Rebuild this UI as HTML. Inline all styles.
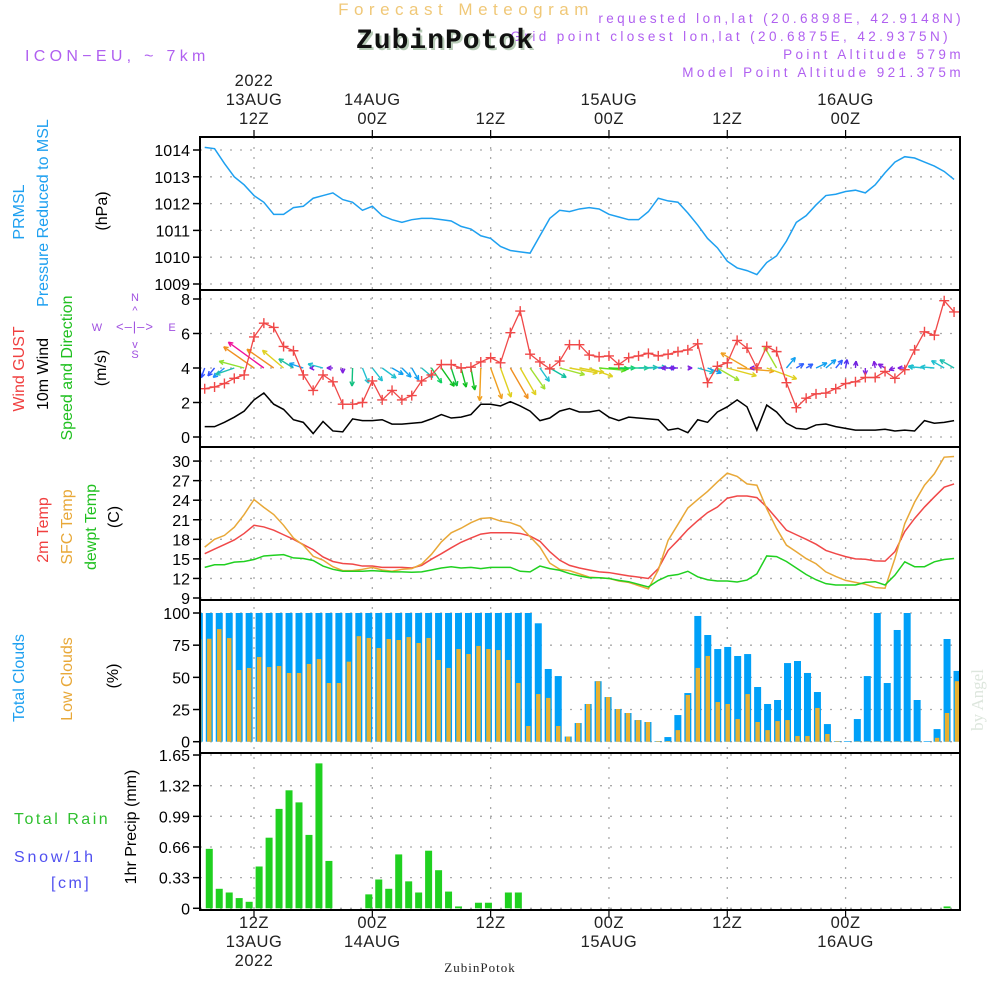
<!DOCTYPE html>
<html><head><meta charset="utf-8"><style>
body{margin:0;background:#fff;}
svg{display:block;font-family:"Liberation Sans",sans-serif;}
</style></head><body>
<svg id="chart" width="1000" height="1000" viewBox="0 0 1000 1000" xmlns="http://www.w3.org/2000/svg">
<defs><clipPath id="plotclip"><rect x="200" y="137" width="760" height="773"/></clipPath></defs>
<rect width="1000" height="1000" fill="#fff"/>
<text x="466" y="15" text-anchor="middle" font-size="17" fill="#f0c878" letter-spacing="5.5">Forecast Meteogram</text>
<g font-size="13.5" fill="#b060f0" letter-spacing="3.4" text-anchor="end">
<text x="964" y="23">requested lon,lat (20.6898E, 42.9148N)</text>
<text x="951" y="41">Grid point closest lon,lat (20.6875E, 42.9375N)</text>
<text x="964" y="59">Point Altitude 579m</text>
<text x="964" y="77">Model Point Altitude 921.375m</text>
</g>
<text x="447" y="50" text-anchor="middle" font-family="Liberation Mono,monospace" font-weight="bold" font-size="28" fill="#b8ccb8" letter-spacing="1">ZubinPotok</text>
<text x="445" y="48" text-anchor="middle" font-family="Liberation Mono,monospace" font-weight="bold" font-size="28" fill="#111" letter-spacing="1">ZubinPotok</text>
<text x="25" y="61" font-size="16" fill="#b060f0" letter-spacing="4.3">ICON−EU, ~ 7km</text>
<g id="grid"></g>
<g id="marks" clip-path="url(#plotclip)"></g>
<g id="axes"></g>
<g font-size="16">
<text transform="translate(24,212) rotate(-90)" text-anchor="middle" fill="#1ea0f0">PRMSL</text>
<text transform="translate(48,213) rotate(-90)" text-anchor="middle" fill="#1ea0f0">Pressure Reduced to MSL</text>
<text transform="translate(107,211) rotate(-90)" text-anchor="middle" fill="#000">(hPa)</text>
<text transform="translate(24,369) rotate(-90)" text-anchor="middle" fill="#f04040">Wind GUST</text>
<text transform="translate(48,374) rotate(-90)" text-anchor="middle" fill="#000">10m Wind</text>
<text transform="translate(72,368) rotate(-90)" text-anchor="middle" fill="#20c020">Speed and Direction</text>
<text transform="translate(106,368) rotate(-90)" text-anchor="middle" fill="#000">(m/s)</text>
<text transform="translate(48,530) rotate(-90)" text-anchor="middle" fill="#f04040">2m Temp</text>
<text transform="translate(72,527) rotate(-90)" text-anchor="middle" fill="#e8a838">SFC Temp</text>
<text transform="translate(96,527) rotate(-90)" text-anchor="middle" fill="#20c020">dewpt Temp</text>
<text transform="translate(119,517) rotate(-90)" text-anchor="middle" fill="#000">(C)</text>
<text transform="translate(24,678) rotate(-90)" text-anchor="middle" fill="#1ea0f0">Total Clouds</text>
<text transform="translate(72,679) rotate(-90)" text-anchor="middle" fill="#e8a838">Low Clouds</text>
<text transform="translate(118,676) rotate(-90)" text-anchor="middle" fill="#000">(%)</text>
<text transform="translate(136,827) rotate(-90)" text-anchor="middle" fill="#000">1hr Precip (mm)</text>
<text x="14" y="824" fill="#30c030" letter-spacing="2.5">Total  Rain</text>
<text x="14" y="862" fill="#5050f0" letter-spacing="2.8">Snow/1h</text>
<text x="51" y="888" fill="#5050f0" letter-spacing="2.5">[cm]</text>
</g>
<g fill="#a050e0" font-size="11" text-anchor="middle">
<text x="135" y="301">N</text><text x="135" y="358">S</text><text x="97" y="331">W</text><text x="172" y="331">E</text>
<text x="135" y="331" font-size="13" letter-spacing="1">&lt;–|–&gt;</text>
<text x="135" y="314">^</text>
<text x="135" y="348">v</text>
</g>
<text transform="translate(983,700) rotate(-90)" text-anchor="middle" font-family="Liberation Serif,serif" font-size="17" fill="#dde6dd">by Angel</text>
<text x="480" y="972" text-anchor="middle" font-family="Liberation Serif,serif" font-size="13" fill="#222" letter-spacing="1">ZubinPotok</text>
</svg>
<script>
const pressure=[1014.1,1014.05,1013.5,1013.0,1012.7,1012.3,1012.05,1011.6,1011.6,1011.85,1011.9,1012.2,1012.3,1012.4,1012.15,1012.05,1011.75,1011.9,1011.55,1011.4,1011.3,1011.4,1011.45,1011.45,1011.4,1011.35,1011.15,1011.05,1010.8,1010.7,1010.4,1010.25,1010.2,1010.15,1010.8,1011.45,1011.75,1011.7,1011.8,1011.85,1011.8,1011.6,1011.5,1011.4,1011.4,1011.7,1012.2,1012.1,1012.05,1011.65,1011.2,1010.7,1010.35,1009.85,1009.6,1009.5,1009.35,1009.8,1010.05,1010.6,1011.3,1011.55,1011.95,1012.3,1012.35,1012.45,1012.5,1012.4,1012.7,1013.15,1013.55,1013.75,1013.7,1013.55,1013.4,1013.2,1012.9];
const gust=[2.8,2.9,3.1,3.4,3.6,5.8,6.6,6.35,5.25,5.0,3.6,2.7,3.6,3.2,1.9,1.9,2.0,3.25,2.15,2.7,2.15,2.4,3.25,3.6,4.2,4.2,4.0,4.05,4.35,4.6,4.3,6.05,7.3,4.8,4.35,3.95,4.4,5.35,5.35,4.75,4.65,4.7,4.2,4.6,4.7,4.85,4.7,4.8,4.95,5.05,5.4,3.15,4.1,4.3,5.6,5.15,4.0,5.25,4.95,3.15,1.7,2.25,2.5,2.55,2.8,3.1,3.2,3.45,3.45,3.8,3.4,3.9,5.05,6.1,5.9,7.9,7.25];
const windSpeed=[0.6,0.6,0.85,1.15,1.5,2.15,2.55,1.9,1.6,1.0,0.85,0.2,0.9,0.35,0.3,1.05,0.95,0.95,1.0,0.75,0.75,0.8,0.85,1.05,1.3,1.1,1.15,1.3,1.9,1.9,1.8,2.05,1.8,1.5,0.95,1.1,1.5,1.65,1.45,1.45,1.55,1.15,0.95,1.15,1.1,1.05,1.0,0.4,0.5,0.25,1.0,0.85,1.45,1.75,2.15,1.75,0.4,1.85,1.45,0.8,0.5,0.45,0.7,0.75,0.6,0.5,0.4,0.4,0.4,0.45,0.35,0.4,0.35,0.95,0.8,0.85,0.95];
const windToDir=[250,230,220,199,165,145,144,145,140,148,162,180,165,180,270,268,292,308,324,330,315,300,320,304,305,288,285,280,268,290,290,300,300,305,305,330,345,350,350,340,355,358,0,0,2,3,0,180,180,0,344,340,330,345,355,150,180,340,120,50,30,30,25,40,50,80,85,270,100,150,200,180,160,175,175,150,150];
const windColor=['#3050ff','#3050ff','#1e90ff','#20c0b0','#90e030','#f09020','#f0109a','#f09020','#e0d020','#20c0a0','#10a0f0','#8020e0','#20c0d0','#8020e0','#8020e0','#10c080','#20c0d0','#20c0d0','#20c0d0','#10a0f0','#10a0f0','#10a0f0','#20c0c0','#10d060','#10c020','#10c040','#10c020','#10c020','#f0a020','#f0a020','#e0d020','#f09020','#e0d020','#a0e030','#20c0d0','#10c0a0','#a0e030','#e0d020','#e0d020','#e0d020','#60e020','#30d020','#10d060','#20d090','#20c0b0','#20c0c0','#3060ff','#8020e0','#8020e0','#8020e0','#20c0d0','#10a0f0','#a0e030','#e0d020','#f0a020','#f0a020','#8020e0','#e0d020','#a0e030','#10a0f0','#3060ff','#3060ff','#10a0f0','#10a0f0','#3060ff','#5030f0','#7020e0','#8020e0','#8020e0','#8020e0','#8020e0','#8020e0','#20c0d0','#20c0d0','#20c0d0','#20c0d0','#20c0b0'];
const temp2m=[15.8,16.5,17.2,17.9,18.9,20.15,19.9,19.4,18.7,18.0,17.2,16.4,15.3,14.6,14.3,14.2,13.9,13.9,13.7,13.7,13.7,13.6,14.0,14.95,15.8,16.7,17.55,18.2,18.8,19.0,19.0,19.0,18.9,18.5,17.7,16.1,14.8,14.0,13.6,13.3,13.0,12.9,12.65,12.4,12.2,12.0,13.5,16.3,17.85,19.5,20.85,22.1,22.95,24.3,24.65,24.65,24.4,22.95,21.2,19.4,18.7,18.0,17.25,16.3,15.8,15.35,15.0,14.95,14.7,14.65,16.1,19.2,21.2,22.95,24.5,26.0,26.5];
const tempSfc=[16.8,18.0,18.6,19.85,21.8,24.1,22.9,21.8,20.15,18.2,17.1,15.4,14.8,13.8,13.2,13.2,13.4,13.7,13.3,13.1,13.4,13.5,14.2,15.7,17.6,19.0,19.7,20.55,21.2,21.3,20.8,20.55,20.0,18.4,16.8,14.35,13.4,13.2,12.7,12.2,12.1,12.0,11.6,11.4,10.9,10.4,13.3,17.85,20.3,22.8,24.1,25.35,26.8,28.15,27.65,26.5,26.3,22.7,19.65,17.1,16.1,15.05,14.25,13.0,12.3,11.7,11.4,11.1,10.6,10.5,15.05,20.4,23.7,26.3,28.05,30.6,30.7];
const dewpoint=[13.7,14.1,14.1,14.5,14.6,14.9,15.45,15.55,15.65,15.15,15.05,14.75,13.9,13.4,13.1,13.1,13.1,13.2,13.1,13.0,13.0,12.95,13.0,13.3,13.6,13.8,13.6,13.7,13.5,13.7,13.7,13.7,13.1,13.0,13.9,13.5,13.25,12.75,12.4,12.1,12.1,12.0,11.7,11.5,11.1,10.7,11.7,12.4,12.6,13.1,12.25,11.8,11.6,11.6,11.45,11.75,12.7,15.45,15.35,14.6,13.6,12.6,11.8,11.2,11.0,11.0,11.0,11.4,11.5,11.0,12.5,14.55,13.8,13.8,14.55,14.9,15.05];
const totalClouds=[100,100,100,100,100,100,100,100,100,100,100,100,100,100,100,100,100,100,100,100,100,100,100,100,100,100,100,100,100,100,100,100,100,100,92,56.5,51,4,14.5,29.3,47,34.7,25.4,22.3,16.8,15.3,0.5,3.6,20.7,37.8,97.7,82.9,72,73.6,66.6,68.1,42.5,29.3,32.4,61.1,62.7,53.4,38.6,13.7,0.5,0.5,17.6,51,100,45.6,86.8,100,32.4,0.5,9.8,79.8,55];
const lowClouds=[79.5,80,87.5,80.5,55.7,57.3,65.8,58,58.8,53.4,53.4,60.4,64.2,45.6,45.6,62.2,82,80.6,72.8,79.8,79,81.3,76.7,80.6,63.5,57.3,72,68.1,74.4,72,71.2,63.5,45.6,12.2,37,34,12.2,4,14.5,29.3,47,34.7,25.4,22.3,16.8,15.3,0.5,0.5,9,36.3,57.3,66.6,30.8,29.3,17.6,37,15.3,9,16,16.8,4.4,4.4,26.2,6,0.5,0,0.3,0.3,0.3,0.3,0.3,0.3,0.3,0,3,22.3,47];
const precip=[0,0.64,0.21,0.17,0.11,0.07,0.45,0.76,1.07,1.27,1.14,0.79,1.56,0.51,0,0,0,0.15,0.31,0.21,0.58,0.29,0.17,0.62,0.41,0.18,0.02,0,0.06,0.06,0,0.17,0.17,0,0,0,0,0,0,0,0,0,0,0,0,0,0,0,0,0,0,0,0,0,0,0,0,0,0,0,0,0,0,0,0,0,0,0,0,0,0,0,0,0,0,0.02,0];
const pTicks=[1009,1010,1011,1012,1013,1014];
const wTicks=[0,2,4,6,8];
const tTicks=[9,12,15,18,21,24,27,30];
const cTicks=[0,25,50,75,100];
const rTicks=[0,0.33,0.66,0.99,1.32,1.65];
const timeIdx=[5,17,29,41,53,65];
const topLabels=[["2022","13AUG","12Z"],["","14AUG","00Z"],["","","12Z"],["","15AUG","00Z"],["","","12Z"],["","16AUG","00Z"]];
const botLabels=[["12Z","13AUG","2022"],["00Z","14AUG",""],["12Z","",""],["00Z","15AUG",""],["12Z","",""],["00Z","16AUG",""]];

const NS='http://www.w3.org/2000/svg';
const X=i=>204.7+9.86*i;
const BX=k=>199.3+9.97*k;
const yP=v=>150+(1014-v)*26.8;
const yW=v=>437-v*17.25;
const yT=v=>598-(v-9)*6.52;
const yC=v=>741.7-v*1.287;
const yR=v=>908.3-v*92.9;
const grid=document.getElementById('grid'),marks=document.getElementById('marks'),axes=document.getElementById('axes');
function mk(tag,attrs,parent){const e=document.createElementNS(NS,tag);for(const k in attrs)e.setAttribute(k,attrs[k]);parent.appendChild(e);return e;}

const panels=[[pTicks,yP,'pressure'],[wTicks,yW,'wind'],[tTicks,yT,'temp'],[cTicks,yC,'cloud'],[rTicks,yR,'precip']];
panels.forEach(([ticks,fy,nm])=>{
  ticks.forEach(t=>{
    const y=fy(t);
    const g=mk('line',{x1:200,x2:960,y1:y,y2:y,stroke:'#aaa','stroke-width':1.3,'stroke-dasharray':'2,8'},grid);
    
    
    const tk=mk('line',{x1:193,x2:200,y1:y,y2:y,stroke:'#000','stroke-width':1.5},axes);
    
    
    const lb=mk('text',{x:190,y:y+6,'text-anchor':'end','font-size':16,fill:'#000'},axes);
    lb.textContent=(nm==='precip'?(t===0?'0':t.toFixed(2)):String(t));
    
    
  });
});
timeIdx.forEach((ti,j)=>{
  const x=X(ti);
  const g=mk('line',{x1:x,x2:x,y1:137,y2:910,stroke:'#aaa','stroke-width':1.3,'stroke-dasharray':'2,8'},grid);
  
  
  mk('line',{x1:x,x2:x,y1:130,y2:137,stroke:'#000','stroke-width':1.2},axes);
  mk('line',{x1:x,x2:x,y1:910,y2:917,stroke:'#000','stroke-width':1.2},axes);
  const tl=topLabels[j];
  [86,105,124].forEach((yy,r)=>{if(tl[r]){const t=mk('text',{x:x,y:yy,'text-anchor':'middle','font-size':16.5,fill:'#222','letter-spacing':'0.5'},axes);t.textContent=tl[r];
    
    }});
  const bl=botLabels[j];
  [928,947,966].forEach((yy,r)=>{if(bl[r]){const t=mk('text',{x:x,y:yy,'text-anchor':'middle','font-size':16.5,fill:'#222','letter-spacing':'0.5'},axes);t.textContent=bl[r];
    
    }});
});
[[137,290],[290,447],[447,600],[600,753],[753,910]].forEach(([a,b])=>{
  const r=mk('rect',{x:200,y:a,width:760,height:b-a,fill:'none',stroke:'#000','stroke-width':2},axes);
  
  
});
function line(arr,fx,fy,color,name,w){
  const pl=mk('polyline',{points:arr.map((v,i)=>fx(i)+','+fy(v)).join(' '),fill:'none',stroke:color,'stroke-width':w||1.5},marks);
  
  
}
totalClouds.forEach((v,k)=>{
  const r=mk('rect',{x:BX(k)-3.5,y:yC(v),width:7,height:yC(0)-yC(v),fill:'#00a0f8'},marks);
  
  
});
lowClouds.forEach((v,k)=>{
  const r=mk('rect',{x:BX(k)-2.2,y:yC(v),width:4.4,height:yC(0)-yC(v),fill:'#e8b030'},marks);
  
  
});
precip.forEach((v,k)=>{
  if(v<=0)return;
  const r=mk('rect',{x:BX(k)-3.5,y:yR(v),width:7,height:yR(0)-yR(v),fill:'#20d020'},marks);
  
  
});
line(pressure,X,yP,'#1ea0f0','pressure-line');
line(windSpeed,X,yW,'#000','wind-speed-line');
line(temp2m,X,yT,'#f04848','temp-2m-line');
line(tempSfc,X,yT,'#e8a838','temp-sfc-line');
line(dewpoint,X,yT,'#20d020','dewpoint-line');
windSpeed.forEach((s,i)=>{
  const a=windToDir[i]*Math.PI/180,L=s*17.2;
  const x0=X(i),y0=yW(4),x1=x0+L*Math.cos(a),y1=y0-L*Math.sin(a);
  const g=mk('g',{stroke:windColor[i],'stroke-width':1.4,fill:'none'},marks);
  
  
  mk('line',{x1:x0,y1:y0,x2:x1,y2:y1},g);
  [0.45,-0.45].forEach(d=>{const b=a+Math.PI+d;mk('line',{x1:x1,y1:y1,x2:x1+5*Math.cos(b),y2:y1-5*Math.sin(b)},g);});
});
line(gust,X,yW,'#f04848','gust-line',1.3);
gust.forEach((v,i)=>{
  const x=X(i),y=yW(v);
  const p=mk('path',{d:`M${x-5},${y}h10M${x},${y-5}v10`,stroke:'#f04848','stroke-width':1.4},marks);
  
  
});
</script>
</body></html>
